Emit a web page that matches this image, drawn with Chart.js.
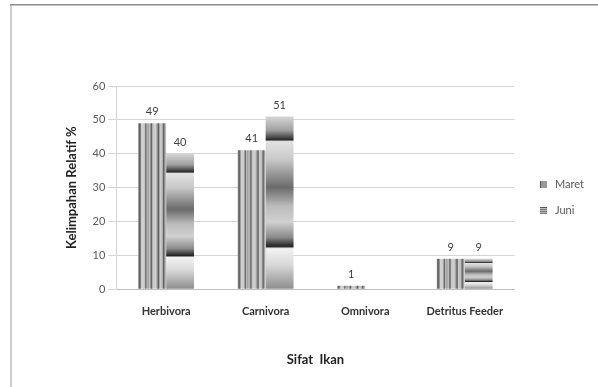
<!DOCTYPE html>
<html>
<head>
<meta charset="utf-8">
<script src="https://cdn.jsdelivr.net/npm/chart.js@4.4.1/dist/chart.umd.min.js"></script>
<style>
  html, body { margin: 0; padding: 0; background: #fff; }
  #wrap { width: 598px; height: 387px; position: relative; }
</style>
</head>
<body>
<div id="wrap"><canvas id="chart"></canvas></div>
<script>
// data
const categories = ['Herbivora', 'Carnivora', 'Omnivora', 'Detritus Feeder'];
const maretValues = [49, 41, 1, 9];
const juniValues = [40, 51, null, 9];
const seriesNames = ['Maret', 'Juni'];
const yMin = 0, yMax = 60, yStep = 10;

const CAT_PCT = 0.56;

Chart.defaults.font.family = 'Lato, "Open Sans", sans-serif';

// where a bar sits, worked out from the scales
function barBox(chart, dsIndex, index, value) {
  const xs = chart.scales.x, ys = chart.scales.y;
  if (!xs || !ys || !xs.width) return null;
  const cat = xs.width / chart.data.labels.length;
  const bw = cat * CAT_PCT / 2;
  const c = xs.getPixelForValue(index);
  const left = dsIndex === 0 ? c - bw : c;
  return { left, right: left + bw, top: ys.getPixelForValue(value), bottom: ys.getPixelForValue(0) };
}

// vertical stripes (Maret)
const maretStops = [
  [0.00, '#8a8a8a'], [0.05, '#5a5a5a'], [0.09, '#8a8a8a'], [0.12, '#d2d2d2'],
  [0.22, '#cdcdcd'], [0.27, '#5e5e5e'], [0.31, '#bdbdbd'], [0.36, '#9a9a9a'],
  [0.41, '#c9c9c9'], [0.47, '#5a5a5a'], [0.52, '#c4c4c4'], [0.62, '#d2d2d2'],
  [0.68, '#9c9c9c'], [0.73, '#5a5a5a'], [0.78, '#cfcfcf'], [0.86, '#bdbdbd'],
  [0.91, '#5c5c5c'], [0.96, '#a8a8a8'], [1.00, '#cfcfcf']
];
// horizontal bands (Juni), top -> bottom
const juniStops = [
  [0.00, '#d6d6d6'], [0.08, '#a0a0a0'], [0.135, '#2a2a2a'], [0.145, '#e2e2e2'],
  [0.25, '#c8c8c8'], [0.41, '#6a6a6a'], [0.52, '#bcbcbc'], [0.61, '#d0d0d0'],
  [0.70, '#8a8a8a'], [0.752, '#222222'], [0.765, '#f2f2f2'], [0.86, '#d8d8d8'],
  [1.00, '#8c8c8c']
];

function maretFill(context) {
  const chart = context.chart;
  const b = barBox(chart, 0, context.dataIndex, maretValues[context.dataIndex] || 0);
  if (!b) return '#aaaaaa';
  const g = chart.ctx.createLinearGradient(b.left, 0, b.right, 0);
  maretStops.forEach(s => g.addColorStop(s[0], s[1]));
  return g;
}

function juniFill(context) {
  const chart = context.chart;
  const v = juniValues[context.dataIndex] || 0;
  const b = barBox(chart, 1, context.dataIndex, v);
  if (!b || b.bottom - b.top < 1) return '#aaaaaa';
  const g = chart.ctx.createLinearGradient(0, b.top, 0, b.bottom);
  juniStops.forEach(s => g.addColorStop(s[0], s[1]));
  return g;
}

// small legend swatches
function swatch(vertical) {
  const c = document.createElement('canvas');
  c.width = 7; c.height = 7;
  const x = c.getContext('2d');
  x.fillStyle = '#dddddd';
  x.fillRect(0, 0, 7, 7);
  x.fillStyle = '#555';
  for (let i = 0; i < 7; i += 2) {
    if (vertical) x.fillRect(i, 0, 1, 7); else x.fillRect(0, i, 7, 1);
  }
  return c;
}
const swatches = [swatch(true), swatch(false)];

const frame = {
  id: 'frame',
  beforeDraw(chart) {
    const ctx = chart.ctx;
    ctx.save();
    ctx.fillStyle = '#fff';
    ctx.fillRect(0, 0, chart.width, chart.height);
    ctx.fillStyle = '#cfcfcf';
    ctx.fillRect(10, 4, 2, chart.height - 4);
    ctx.fillStyle = '#8e8e8e';
    ctx.fillRect(10, 4, chart.width - 10, 1.5);
    ctx.restore();
  }
};

const valueLabels = {
  id: 'valueLabels',
  afterDatasetsDraw(chart) {
    const ctx = chart.ctx;
    ctx.save();
    ctx.font = '11px Lato, sans-serif';
    ctx.fillStyle = '#404040';
    ctx.textAlign = 'center';
    ctx.textBaseline = 'bottom';
    chart.data.datasets.forEach((ds, di) => {
      chart.getDatasetMeta(di).data.forEach((bar, i) => {
        const v = ds.data[i];
        if (v == null) return;
        ctx.fillText(String(v), bar.x, bar.y - 6);
      });
    });
    ctx.restore();
  }
};

new Chart(document.getElementById('chart'), {
  type: 'bar',
  data: {
    labels: categories,
    datasets: [
      { label: seriesNames[0], data: maretValues, backgroundColor: maretFill,
        categoryPercentage: CAT_PCT, barPercentage: 1, borderWidth: 0 },
      { label: seriesNames[1], data: juniValues, backgroundColor: juniFill,
        categoryPercentage: CAT_PCT, barPercentage: 1, borderWidth: 0 }
    ]
  },
  options: {
    responsive: true,
    maintainAspectRatio: false,
    animation: false,
    layout: { padding: { left: 64, right: 4, top: 86, bottom: 19 } },
    plugins: {
      legend: {
        position: 'right',
        align: 'start',
        title: { display: true, text: ' ', font: { size: 1 }, padding: { top: 77, bottom: 0 } },
        labels: {
          usePointStyle: true,
          color: '#595959',
          font: { size: 11 },
          padding: 15,
          generateLabels(chart) {
            return chart.data.datasets.map((ds, i) => ({
              text: ds.label,
              pointStyle: swatches[i],
              fontColor: '#595959',
              lineWidth: 0,
              datasetIndex: i,
              hidden: false
            }));
          }
        }
      },
      tooltip: { enabled: false }
    },
    scales: {
      x: {
        grid: { display: false },
        border: { display: true, color: '#bfbfbf' },
        ticks: { color: '#333', font: { size: 11, weight: 'bold' }, padding: 8 },
        title: { display: true, text: 'Sifat  Ikan', color: '#222',
                 font: { size: 13, weight: 'bold' }, padding: { top: 26, bottom: 0 } }
      },
      y: {
        min: yMin, max: yMax,
        grid: { color: '#d4d4d4', tickLength: 8, tickColor: '#d4d4d4' },
        border: { display: true, color: '#d4d4d4' },
        ticks: { stepSize: yStep, color: '#595959', font: { size: 11 }, padding: 3 },
        title: { display: true, text: 'Kelimpahan Relatif %', color: '#222',
                 font: { size: 13, weight: 'bold' }, padding: { top: 0, bottom: 10 } }
      },
      // empty spacer between the plot and the legend
      gap: {
        type: 'linear',
        position: 'right',
        display: true,
        grid: { display: false },
        border: { display: false },
        ticks: { display: false },
        afterFit(scale) { scale.width = 9; }
      }
    }
  },
  plugins: [frame, valueLabels]
});
</script>
</body>
</html>
